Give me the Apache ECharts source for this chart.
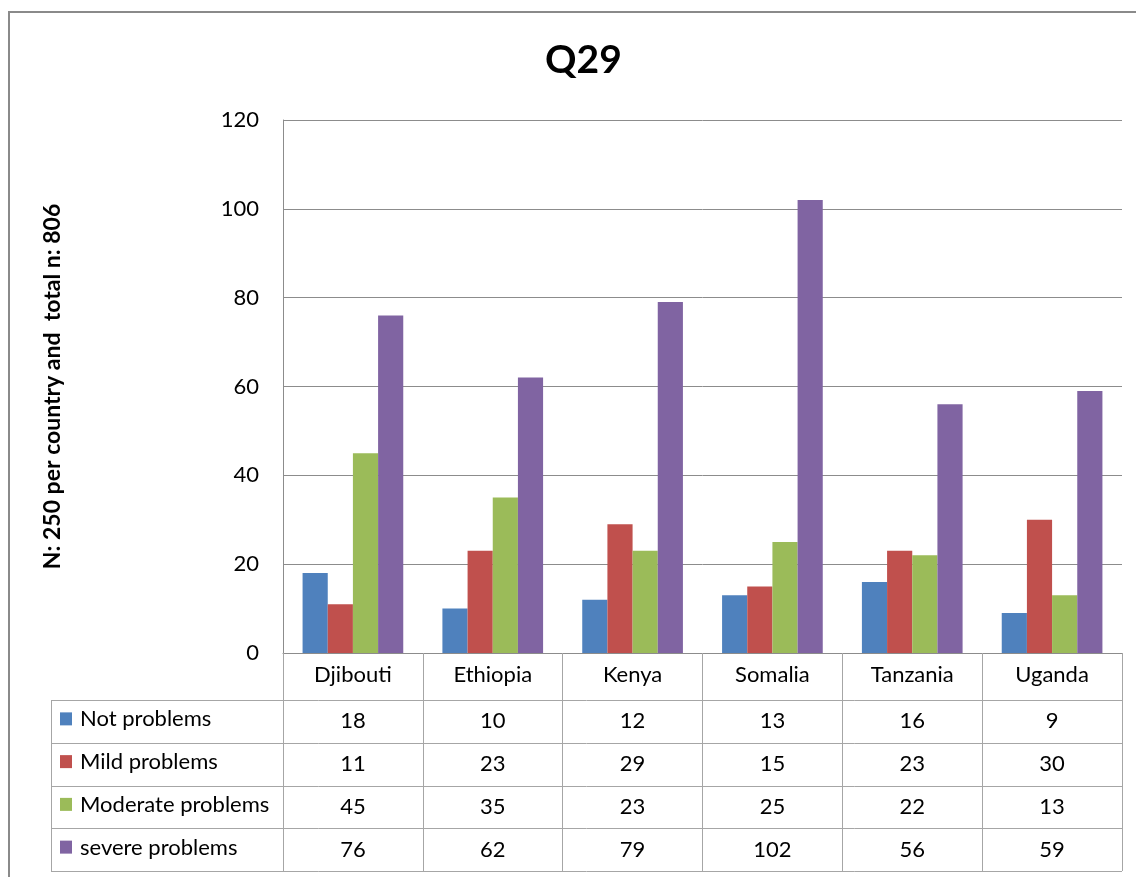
<!DOCTYPE html>
<html>
<head>
<meta charset="utf-8">
<script src="https://cdn.jsdelivr.net/npm/echarts@6/dist/echarts.min.js"></script>
<style>
  html, body { margin: 0; padding: 0; background: #fff; }
  #chart { width: 1136px; height: 877px; }
</style>
</head>
<body>
<div id="chart"></div>
<script>
const categories = ['Djibouti', 'Ethiopia', 'Kenya', 'Somalia', 'Tanzania', 'Uganda']
const seriesNames = ['Not problems', 'Mild problems', 'Moderate problems', 'severe problems']
const notProblems = [18, 10, 12, 13, 16, 9]
const mildProblems = [11, 23, 29, 15, 23, 30]
const moderateProblems = [45, 35, 23, 25, 22, 13]
const severeProblems = [76, 62, 79, 102, 56, 59]
const yMin = 0
const yMax = 120
const yStep = 20

const seriesData = [notProblems, mildProblems, moderateProblems, severeProblems]
const colors = ['#4F81BD', '#C0504D', '#9BBB59', '#8064A2']
const font = 'Lato, "Open Sans", sans-serif'
const gridLine = '#8c8c8c'
const tableLine = '#a6a6a6'
const textSize = 22

// layout of plot + data table
const gridLeft = 283
const gridTop = 120
const gridRight = 1122
const gridBottom = 653
const catRowBottom = 700
const rowH = 42.75
const tableLeft = 51

const chart = echarts.init(document.getElementById('chart'))

chart.setOption({
  animation: false,
  title: {
    text: 'Q29',
    left: 540,
    top: 36,
    textStyle: { fontFamily: font, fontSize: 39, fontWeight: 'bold', color: '#000' }
  },
  grid: {
    left: gridLeft,
    top: gridTop,
    width: gridRight - gridLeft,
    height: gridBottom - gridTop
  },
  xAxis: {
    type: 'category',
    data: categories,
    axisLine: { show: true, lineStyle: { color: gridLine, width: 1 } },
    axisTick: {
      show: true,
      interval: 0,
      length: catRowBottom - gridBottom + rowH * seriesNames.length,
      lineStyle: { color: tableLine, width: 1 }
    },
    axisLabel: { margin: 11, fontFamily: font, fontSize: textSize, color: '#000' }
  },
  yAxis: {
    type: 'value',
    min: yMin,
    max: yMax,
    interval: yStep,
    name: 'N: 250 per country and  total n: 806',
    nameLocation: 'middle',
    nameGap: 219,
    nameTextStyle: { fontFamily: font, fontSize: 23, fontWeight: 'bold', color: '#000' },
    axisLine: { show: true, lineStyle: { color: gridLine, width: 1 } },
    axisTick: { show: false },
    axisLabel: { margin: 24, fontFamily: font, fontSize: textSize, color: '#000' },
    splitLine: { show: true, lineStyle: { color: gridLine, width: 1 } }
  },
  series: seriesNames.map((name, i) => ({
    name: name,
    type: 'bar',
    data: seriesData[i],
    barGap: 0,
    barCategoryGap: '28%',
    itemStyle: { color: colors[i] }
  }))
})

// data table under the axis
const graphics = []
graphics.push({
  type: 'rect',
  silent: true,
  z: -1,
  shape: { x: 9, y: 12, width: 1300, height: 1000 },
  style: { fill: 'none', stroke: '#8a8a8a', lineWidth: 2 }
})
const tableBottom = catRowBottom + rowH * seriesNames.length
for (let r = 0; r <= seriesNames.length; r++) {
  const y = Math.round(catRowBottom + rowH * r) + 0.5
  graphics.push({
    type: 'line',
    silent: true,
    shape: { x1: tableLeft, y1: y, x2: gridRight, y2: y },
    style: { stroke: tableLine, lineWidth: 1 }
  })
}
graphics.push({
  type: 'line',
  silent: true,
  shape: { x1: tableLeft + 0.5, y1: catRowBottom, x2: tableLeft + 0.5, y2: tableBottom },
  style: { stroke: tableLine, lineWidth: 1 }
})
seriesNames.forEach((name, r) => {
  const cy = catRowBottom + rowH * (r + 0.5)
  graphics.push({
    type: 'rect',
    silent: true,
    shape: { x: 60, y: cy - 9, width: 12, height: 13 },
    style: { fill: colors[r] }
  })
  graphics.push({
    type: 'text',
    silent: true,
    x: 80,
    y: cy - 2,
    style: { text: name, fill: '#000', fontSize: textSize, fontFamily: font, align: 'left', verticalAlign: 'middle' }
  })
  seriesData[r].forEach((v, c) => {
    const cx = chart.convertToPixel({ xAxisIndex: 0 }, categories[c])
    graphics.push({
      type: 'text',
      silent: true,
      x: cx,
      y: cy,
      style: { text: String(v), fill: '#000', fontSize: textSize, fontFamily: font, align: 'center', verticalAlign: 'middle' }
    })
  })
})
chart.setOption({ graphic: graphics })
</script>
</body>
</html>
